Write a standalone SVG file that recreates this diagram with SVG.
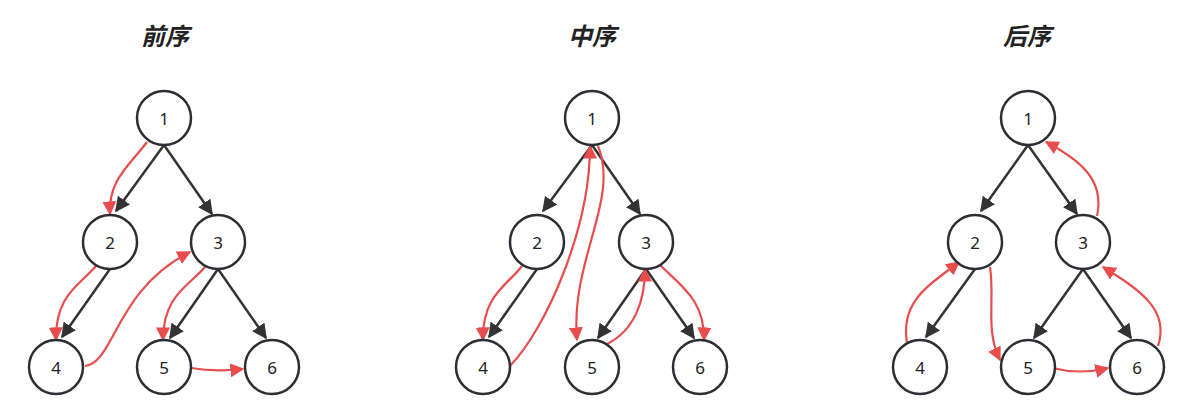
<svg xmlns="http://www.w3.org/2000/svg" width="1201" height="408" viewBox="0 0 1201 408">
<style>
.n circle{fill:#fff;stroke:#2b2f33;stroke-width:2.5}
.n text{font-family:"Segoe UI","Noto Sans",sans-serif;font-size:17px;fill:#222;text-anchor:middle;dominant-baseline:central}
.e{stroke:#333;stroke-width:2.5;fill:none;marker-end:url(#ab)}
.r{stroke:#e84c4c;stroke-width:2.2;fill:none;marker-end:url(#ar)}
.t{font-family:"Noto Sans CJK SC",sans-serif;font-size:24px;font-weight:bold;font-style:italic;fill:#222;text-anchor:middle}
</style>
<defs>
<marker id="ab" viewBox="0 0 10 10" refX="9" refY="5" markerWidth="15" markerHeight="15" markerUnits="userSpaceOnUse" orient="auto"><path d="M0,0L10,5L0,10z" fill="#333"/></marker>
<marker id="ar" viewBox="0 0 10 10" refX="9" refY="5" markerWidth="14" markerHeight="14" markerUnits="userSpaceOnUse" orient="auto"><path d="M0,0L10,5L0,10z" fill="#e84c4c"/></marker>
</defs>
<text class="t" x="165" y="45">前序</text>
<text class="t" x="592" y="45">中序</text>
<text class="t" x="1027" y="45">后序</text>
<g id="connectors">
<path class="e" d="M164,145L116,211"/>
<path class="e" d="M164,145L212,214"/>
<path class="e" d="M110,269L62,337"/>
<path class="e" d="M218,269L170,338"/>
<path class="e" d="M218,269L266,338"/>
<path class="r" d="M147,142C130,165 108,180 110,214"/>
<path class="r" d="M96,266C80,285 55,295 56,340"/>
<path class="r" d="M85,366C115,362 115,290 190,252"/>
<path class="r" d="M205,267C190,285 163,295 163,340"/>
<path class="r" d="M191,368Q215,372 243,369"/>

<path class="e" d="M592,145L543,211"/>
<path class="e" d="M592,145L640,214"/>
<path class="e" d="M537,269L489,337"/>
<path class="e" d="M646,269L598,338"/>
<path class="e" d="M646,269L694,338"/>
<path class="r" d="M522,266C508,285 482,295 483,340"/>
<path class="r" d="M510,366C545,330 590,230 590,146"/>
<path class="r" d="M598,146C620,200 570,260 577,340"/>
<path class="r" d="M607,344C635,330 645,300 645,269"/>
<path class="r" d="M660,265C680,285 705,300 704,340"/>

<path class="e" d="M1028,145L981,211"/>
<path class="e" d="M1028,145L1077,214"/>
<path class="e" d="M975,269L926,337"/>
<path class="e" d="M1083,269L1034,338"/>
<path class="e" d="M1083,269L1131,338"/>
<path class="r" d="M907,343C900,300 930,285 959,262"/>
<path class="r" d="M990,267C995,300 985,330 1000,360"/>
<path class="r" d="M1052,368Q1080,375 1108,368"/>
<path class="r" d="M1158,346C1170,310 1140,290 1103,267"/>
<path class="r" d="M1097,216C1105,180 1080,160 1046,142"/>
</g>
<g id="n1" class="n"><circle cx="164" cy="118" r="27"/><text x="164" y="118">1</text></g>
<g id="n2" class="n"><circle cx="110" cy="242" r="27"/><text x="110" y="242">2</text></g>
<g id="n3" class="n"><circle cx="218" cy="242" r="27"/><text x="218" y="242">3</text></g>
<g id="n4" class="n"><circle cx="56" cy="367" r="27"/><text x="56" y="367">4</text></g>
<g id="n5" class="n"><circle cx="164" cy="367" r="27"/><text x="164" y="367">5</text></g>
<g id="n6" class="n"><circle cx="272" cy="367" r="27"/><text x="272" y="367">6</text></g>

<g id="m1" class="n"><circle cx="592" cy="118" r="27"/><text x="592" y="118">1</text></g>
<g id="m2" class="n"><circle cx="537" cy="242" r="27"/><text x="537" y="242">2</text></g>
<g id="m3" class="n"><circle cx="646" cy="242" r="27"/><text x="646" y="242">3</text></g>
<g id="m4" class="n"><circle cx="483" cy="367" r="27"/><text x="483" y="367">4</text></g>
<g id="m5" class="n"><circle cx="592" cy="367" r="27"/><text x="592" y="367">5</text></g>
<g id="m6" class="n"><circle cx="700" cy="367" r="27"/><text x="700" y="367">6</text></g>

<g id="p1" class="n"><circle cx="1028" cy="118" r="27"/><text x="1028" y="118">1</text></g>
<g id="p2" class="n"><circle cx="975" cy="242" r="27"/><text x="975" y="242">2</text></g>
<g id="p3" class="n"><circle cx="1083" cy="242" r="27"/><text x="1083" y="242">3</text></g>
<g id="p4" class="n"><circle cx="920" cy="367" r="27"/><text x="920" y="367">4</text></g>
<g id="p5" class="n"><circle cx="1028" cy="367" r="27"/><text x="1028" y="367">5</text></g>
<g id="p6" class="n"><circle cx="1137" cy="367" r="27"/><text x="1137" y="367">6</text></g>
</svg>
